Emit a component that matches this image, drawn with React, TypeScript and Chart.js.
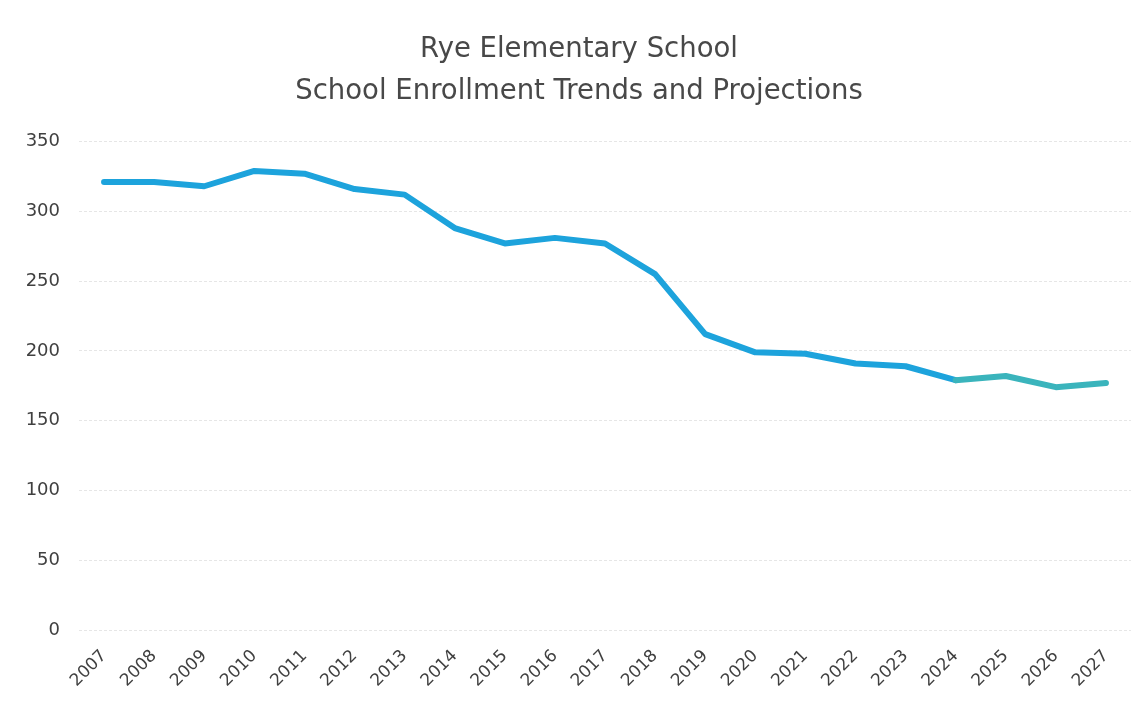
import React, { useEffect, useRef } from "react";
import { Chart, registerables } from "chart.js";

Chart.register(...registerables);

const years = ["2007","2008","2009","2010","2011","2012","2013","2014","2015","2016","2017","2018","2019","2020","2021","2022","2023","2024","2025","2026","2027"];
const enrollment = [321, 321, 318, 329, 327, 316, 312, 288, 277, 281, 277, 255, 212, 199, 198, 191, 189, 179, 182, 174, 177];
const projectionStartIndex = 17;
const titleLines = ["Rye Elementary School", "School Enrollment Trends and Projections"];

const FONT = "'DejaVu Sans', sans-serif";

export default function App() {
  const ref = useRef<HTMLCanvasElement | null>(null);
  useEffect(() => {
    const canvas = ref.current;
    if (!canvas) return;
    const chart = new Chart(canvas, {
      type: "line",
      data: {
        labels: years,
        datasets: [
          {
            data: enrollment,
            borderColor: "#1da3dc",
            borderWidth: 6,
            pointRadius: 0,
            tension: 0,
            fill: false,
            borderCapStyle: "round",
            borderJoinStyle: "round",
            segment: {
              borderColor: (ctx: any) => (ctx.p0DataIndex >= projectionStartIndex ? "#3ab4bc" : "#1da3dc"),
            },
          },
        ],
      },
      options: {
        animation: false,
        responsive: false,
        layout: { padding: { left: 27, right: 13, top: 0, bottom: 0 } },
        plugins: {
          legend: { display: false },
          tooltip: { enabled: false },
          title: {
            display: true,
            text: titleLines,
            color: "#484848",
            font: { family: FONT, size: 27.5, weight: "normal" as any, lineHeight: 1.52 },
            padding: { top: 29, bottom: 29 },
          },
        },
        scales: {
          x: {
            offset: true,
            grid: { display: false, drawTicks: false },
            border: { display: false },
            ticks: {
              color: "#404040",
              font: { family: FONT, size: 17 },
              maxRotation: 45,
              minRotation: 45,
              padding: 16,
              autoSkip: false,
            },
            afterFit: (scale: any) => {
              scale.height = 79;
            },
          },
          y: {
            min: 0,
            max: 350,
            ticks: {
              stepSize: 50,
              color: "#404040",
              font: { family: FONT, size: 18 },
              padding: 19,
            },
            grid: { color: "#e6e6e6", lineWidth: 1, drawTicks: false },
            border: { display: false, dash: [3, 2] },
            afterFit: (scale: any) => {
              scale.width = 52;
            },
          },
        },
      },
    });
    return () => chart.destroy();
  }, []);
  return (
    <div style={{ position: "fixed", left: 0, top: 0, width: 1144, height: 709, background: "#fff" }}>
      <canvas ref={ref} width={1144} height={709} style={{ display: "block" }} />
    </div>
  );
}
